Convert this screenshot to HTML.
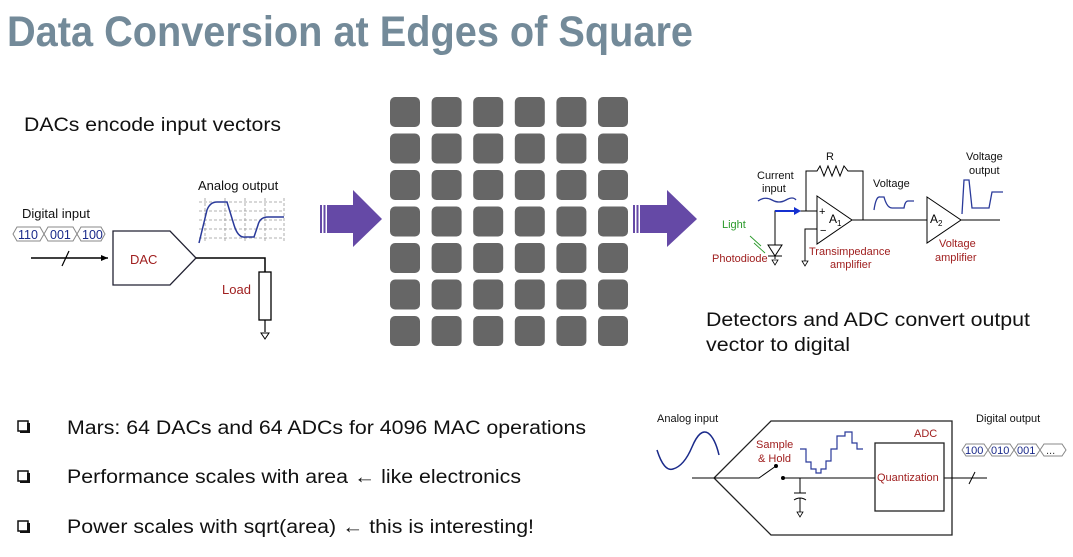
<!DOCTYPE html>
<html><head><meta charset="utf-8"><style>
html,body{margin:0;padding:0;background:#fff}
svg{display:block}
text{font-family:"Liberation Sans",Arial,sans-serif}
</style></head><body>
<svg width="1073" height="557" viewBox="0 0 1073 557" xmlns="http://www.w3.org/2000/svg">
<rect width="1073" height="557" fill="#fff"/>
<text x="7" y="46" font-size="43" font-weight="bold" fill="#738a99" textLength="686" lengthAdjust="spacingAndGlyphs">Data Conversion at Edges of Square</text>

<text x="24" y="131" font-size="19" fill="#111" textLength="257" lengthAdjust="spacingAndGlyphs">DACs encode input vectors</text>

<!-- DAC diagram -->
<g font-size="13" fill="#111">
<text x="22" y="218">Digital input</text>
<text x="198" y="190">Analog output</text>
</g>
<g stroke="#888" stroke-width="1" fill="none">
<path d="M13,234 L17,227 L40,227 L44,234 L40,241 L17,241 Z M44,234 L48,227 L73,227 L77,234 L73,241 L48,241 Z M77,234 L81,227 L101,227 L105,234 L101,241 L81,241 Z"/>
</g>
<g font-size="12.5" fill="#1a2a8a"><text x="18" y="239">110</text><text x="50" y="239">001</text><text x="82" y="239">100</text></g>
<g stroke="#999" stroke-width="0.8" stroke-dasharray="3,2" fill="none">
<path d="M199,202 H284 M199,211 H284 M199,220 H284 M199,229 H284 M199,238 H284"/>
<path d="M205,198 V243 M225,198 V243 M245,198 V243 M265,198 V243 M284,198 V243"/>
</g>
<path d="M199,243 L207,210 Q210,202 217,202 L227,202 L234,225 Q238,238 245,237 L254,237 L258,225 Q260,217 268,217 L284,217" stroke="#2a3a9a" stroke-width="1.5" fill="none"/>
<path d="M31,258 H108" stroke="#000" stroke-width="1.5"/>
<path d="M108,258 l-7,-3 v6 z" fill="#000"/>
<path d="M62,266 L69,251" stroke="#000" stroke-width="1.2"/>
<path d="M113,231 L170,231 L196,258 L170,285 L113,285 Z" fill="#fff" stroke="#223" stroke-width="1.3"/>
<text x="130" y="264" font-size="13" fill="#a02020">DAC</text>
<path d="M196,258 H265 V272" stroke="#000" stroke-width="1.5" fill="none"/>
<rect x="259" y="272" width="12" height="48" fill="#fff" stroke="#000" stroke-width="1.3"/>
<path d="M265,320 V332" stroke="#000" stroke-width="1.2"/>
<path d="M261,333 h8 l-4,6 z" fill="#fff" stroke="#000"/>
<text x="222" y="294" font-size="13" fill="#a02020">Load</text>

<!-- arrows -->
<g fill="#6549a6">
<rect x="320" y="205" width="2" height="28"/><rect x="323.5" y="205" width="2" height="28"/><rect x="327" y="205" width="26" height="28"/>
<path d="M353,190 L382,219 L353,247 Z"/>
<rect x="633" y="205" width="2" height="28"/><rect x="636.5" y="205" width="2" height="28"/><rect x="640" y="205" width="27" height="28"/>
<path d="M667,190 L697,219 L667,247 Z"/>
</g>

<!-- grid -->
<g fill="#666">
<rect x="390" y="97" width="30" height="30" rx="5"/><rect x="431.6" y="97" width="30" height="30" rx="5"/><rect x="473.2" y="97" width="30" height="30" rx="5"/><rect x="514.8" y="97" width="30" height="30" rx="5"/><rect x="556.4" y="97" width="30" height="30" rx="5"/><rect x="598" y="97" width="30" height="30" rx="5"/>
<rect x="390" y="133.5" width="30" height="30" rx="5"/><rect x="431.6" y="133.5" width="30" height="30" rx="5"/><rect x="473.2" y="133.5" width="30" height="30" rx="5"/><rect x="514.8" y="133.5" width="30" height="30" rx="5"/><rect x="556.4" y="133.5" width="30" height="30" rx="5"/><rect x="598" y="133.5" width="30" height="30" rx="5"/>
<rect x="390" y="170" width="30" height="30" rx="5"/><rect x="431.6" y="170" width="30" height="30" rx="5"/><rect x="473.2" y="170" width="30" height="30" rx="5"/><rect x="514.8" y="170" width="30" height="30" rx="5"/><rect x="556.4" y="170" width="30" height="30" rx="5"/><rect x="598" y="170" width="30" height="30" rx="5"/>
<rect x="390" y="206.5" width="30" height="30" rx="5"/><rect x="431.6" y="206.5" width="30" height="30" rx="5"/><rect x="473.2" y="206.5" width="30" height="30" rx="5"/><rect x="514.8" y="206.5" width="30" height="30" rx="5"/><rect x="556.4" y="206.5" width="30" height="30" rx="5"/><rect x="598" y="206.5" width="30" height="30" rx="5"/>
<rect x="390" y="243" width="30" height="30" rx="5"/><rect x="431.6" y="243" width="30" height="30" rx="5"/><rect x="473.2" y="243" width="30" height="30" rx="5"/><rect x="514.8" y="243" width="30" height="30" rx="5"/><rect x="556.4" y="243" width="30" height="30" rx="5"/><rect x="598" y="243" width="30" height="30" rx="5"/>
<rect x="390" y="279.5" width="30" height="30" rx="5"/><rect x="431.6" y="279.5" width="30" height="30" rx="5"/><rect x="473.2" y="279.5" width="30" height="30" rx="5"/><rect x="514.8" y="279.5" width="30" height="30" rx="5"/><rect x="556.4" y="279.5" width="30" height="30" rx="5"/><rect x="598" y="279.5" width="30" height="30" rx="5"/>
<rect x="390" y="316" width="30" height="30" rx="5"/><rect x="431.6" y="316" width="30" height="30" rx="5"/><rect x="473.2" y="316" width="30" height="30" rx="5"/><rect x="514.8" y="316" width="30" height="30" rx="5"/><rect x="556.4" y="316" width="30" height="30" rx="5"/><rect x="598" y="316" width="30" height="30" rx="5"/>
</g>

<!-- Detector circuit -->
<g font-size="11" fill="#111">
<text x="757" y="179">Current</text><text x="762" y="192">input</text>
<text x="826" y="160">R</text>
<text x="873" y="187">Voltage</text>
<text x="966" y="160">Voltage</text><text x="969" y="174">output</text>
</g>
<path d="M758,201 Q765,196 772,200 T786,200 T796,200" stroke="#2a3a9a" stroke-width="1.3" fill="none"/>
<path d="M806,211 V171 H817 L820,166 L824,176 L828,166 L832,176 L836,166 L840,176 L844,166 L848,171 H863 V220" stroke="#000" stroke-width="1" fill="none"/>
<path d="M775,245 V211 H817" stroke="#000" stroke-width="1" fill="none"/>
<path d="M775,211 H797" stroke="#1530d0" stroke-width="2"/>
<path d="M801,211 l-7,-4 v8 z" fill="#1530d0"/>
<path d="M817,196 L852,220 L817,244 Z" fill="#fff" stroke="#000" stroke-width="1"/>
<text x="819" y="215" font-size="11" fill="#000">+</text>
<text x="820" y="234" font-size="11" fill="#000">−</text>
<text x="829" y="223" font-size="12" fill="#000">A<tspan font-size="8" dy="3">1</tspan></text>
<path d="M817,229 H805 V261" stroke="#000" stroke-width="1" fill="none"/>
<path d="M802,261 h6 l-3,5 z" fill="#fff" stroke="#000" stroke-width="0.8"/>
<path d="M852,220 H927" stroke="#000" stroke-width="1"/>
<path d="M927,197 L961,220 L927,243 Z" fill="#fff" stroke="#000" stroke-width="1"/>
<text x="930" y="223" font-size="12" fill="#000">A<tspan font-size="8" dy="3">2</tspan></text>
<path d="M961,220 H1000" stroke="#000" stroke-width="1"/>
<path d="M874,210 Q876,196 880,197 L884,197 Q887,208 892,208 L904,208 Q905,201 908,201 L914,201" stroke="#2a3a9a" stroke-width="1.3" fill="none"/>
<path d="M962,214 L964,180 L969,180 L972,208 L989,208 L992,192 L1003,192" stroke="#2a3a9a" stroke-width="1.3" fill="none"/>
<path d="M775,245 L768,245 L775,256 L782,245 Z M768,256 H782" stroke="#000" stroke-width="1" fill="#fff"/>
<path d="M775,256 V259" stroke="#000"/>
<path d="M772,260 h6 l-3,5 z" fill="#fff" stroke="#000" stroke-width="0.8"/>
<path d="M750,236 L761,246 M754,243 L765,253" stroke="#2a9a2a" stroke-width="0.9"/>
<text x="722" y="228" font-size="11" fill="#2a9a2a">Light</text>
<text x="712" y="262" font-size="11" fill="#a02020">Photodiode</text>
<text x="809" y="255" font-size="11" fill="#a02020">Transimpedance</text>
<text x="830" y="268" font-size="11" fill="#a02020">amplifier</text>
<text x="939" y="247" font-size="11" fill="#a02020">Voltage</text>
<text x="935" y="261" font-size="11" fill="#a02020">amplifier</text>

<text x="706" y="326" font-size="19" fill="#111" textLength="324" lengthAdjust="spacingAndGlyphs">Detectors and ADC convert output</text>
<text x="706" y="351" font-size="19" fill="#111" textLength="144" lengthAdjust="spacingAndGlyphs">vector to digital</text>

<!-- bullets -->
<g fill="#fff" stroke="#111" stroke-width="1.5">
<rect x="18" y="421" width="10" height="10"/><rect x="18" y="471" width="10" height="10"/><rect x="18" y="521" width="10" height="10"/>
</g>
<g fill="#111"><rect x="27" y="423" width="3" height="10"/><rect x="20" y="431" width="10" height="2"/><rect x="27" y="473" width="3" height="10"/><rect x="20" y="481" width="10" height="2"/><rect x="27" y="523" width="3" height="10"/><rect x="20" y="531" width="10" height="2"/></g>
<g font-size="19" fill="#111">
<text x="67" y="434" textLength="519" lengthAdjust="spacingAndGlyphs">Mars: 64 DACs and 64 ADCs for 4096 MAC operations</text>
<text x="67" y="483" textLength="454" lengthAdjust="spacingAndGlyphs">Performance scales with area ← like electronics</text>
<text x="67" y="533" textLength="467" lengthAdjust="spacingAndGlyphs">Power scales with sqrt(area) ← this is interesting!</text>
</g>

<!-- ADC diagram -->
<g font-size="11" fill="#111">
<text x="657" y="422">Analog input</text>
<text x="976" y="422">Digital output</text>
</g>
<path d="M657,450 Q664,472 673,469 Q684,466 692,447 Q700,428 708,433 Q715,438 719,455" stroke="#1a2a8a" stroke-width="1.5" fill="none"/>
<path d="M771,421 L952,421 L952,535 L771,535 L714,478 Z" fill="none" stroke="#222" stroke-width="1.3"/>
<path d="M692,478 H714 M714,478 H759 L776,466" stroke="#000" stroke-width="1" fill="none"/>
<circle cx="776" cy="466" r="2" fill="#000"/>
<circle cx="783" cy="478" r="2" fill="#000"/>
<path d="M783,478 H875 M944,478 H987" stroke="#000" stroke-width="1"/>
<path d="M800,478 V493 M794,493 H806 M794,500 Q800,496 806,500 M800,498 V512" stroke="#000" stroke-width="1" fill="none"/>
<path d="M797,512 h6 l-3,5 z" fill="#fff" stroke="#000" stroke-width="0.8"/>
<path d="M969,484 L975,472" stroke="#000" stroke-width="1"/>
<rect x="875" y="443" width="69" height="68" fill="#fff" stroke="#222" stroke-width="1.3"/>
<text x="877" y="481" font-size="11" fill="#a02020">Quantization</text>
<text x="914" y="437" font-size="11" fill="#a02020">ADC</text>
<text x="756" y="448" font-size="11" fill="#a02020">Sample</text>
<text x="758" y="462" font-size="11" fill="#a02020">&amp; Hold</text>
<path d="M800,449 H806 V462 H811 V469 H816 V473 H821 V469 H826 V461 H831 V449 H837 V436 H845 V432 H852 V443 H857 V449 H863" stroke="#2a3a9a" stroke-width="1.2" fill="none"/>
<g stroke="#888" stroke-width="1" fill="none">
<path d="M962,450 L966,444 L984,444 L988,450 L984,456 L966,456 Z M988,450 L992,444 L1010,444 L1014,450 L1010,456 L992,456 Z M1014,450 L1018,444 L1036,444 L1040,450 L1036,456 L1018,456 Z M1040,450 L1044,444 L1062,444 L1066,450 L1062,456 L1044,456 Z"/>
</g>
<g font-size="11" fill="#1a2a8a"><text x="965" y="454">100</text><text x="991" y="454">010</text><text x="1017" y="454">001</text><text x="1046" y="454" fill="#333">...</text></g>
</svg>
</body></html>
